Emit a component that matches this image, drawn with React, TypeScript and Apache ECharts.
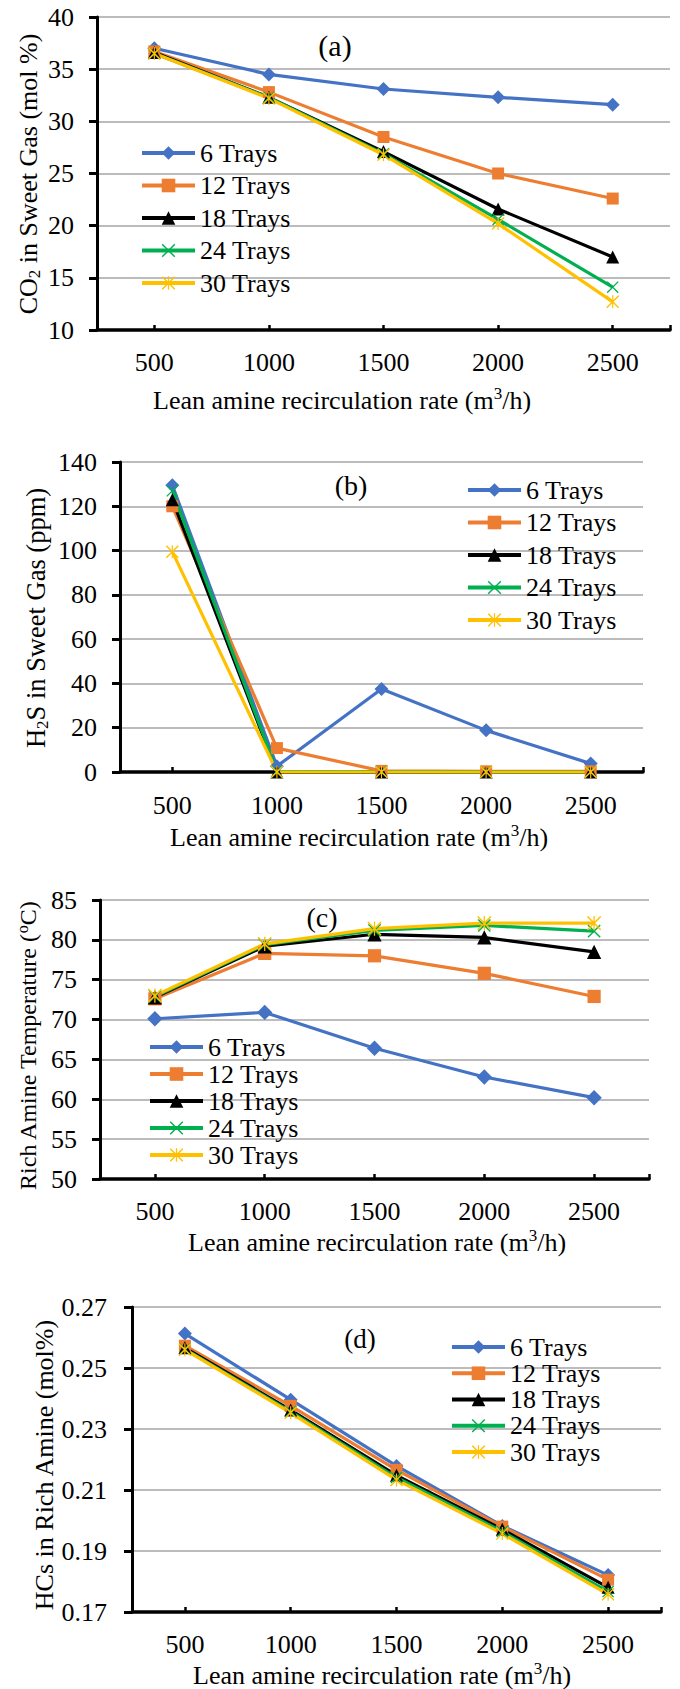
import React, { useEffect, useRef } from 'react';
import * as echarts from 'echarts';

// ---------- data ----------
const categories = ['500', '1000', '1500', '2000', '2500'];
const seriesNames = ['6 Trays', '12 Trays', '18 Trays', '24 Trays', '30 Trays'];

// (a) CO2 in sweet gas (mol %)
const co2_6 = [37.0, 34.5, 33.1, 32.3, 31.6];
const co2_12 = [36.7, 32.8, 28.5, 25.0, 22.6];
const co2_18 = [36.6, 32.3, 27.1, 21.6, 17.0];
const co2_24 = [36.5, 32.3, 26.9, 20.6, 14.1];
const co2_30 = [36.5, 32.2, 26.8, 20.2, 12.7];

// (b) H2S in sweet gas (ppm)
const h2s_6 = [129.5, 2.6, 37.5, 18.8, 3.8];
const h2s_12 = [120.0, 10.8, 0.5, 0.3, 0.3];
const h2s_18 = [123.0, 0.0, 0.0, 0.0, 0.0];
const h2s_24 = [127.0, 0.3, 0.2, 0.1, 0.1];
const h2s_30 = [99.5, 0.0, 0.0, 0.0, 0.0];

// (c) Rich amine temperature (oC)
const temp_6 = [70.1, 70.9, 66.4, 62.8, 60.2];
const temp_12 = [72.6, 78.3, 78.0, 75.8, 72.9];
const temp_18 = [72.8, 79.2, 80.7, 80.3, 78.5];
const temp_24 = [72.9, 79.4, 81.2, 81.8, 81.1];
const temp_30 = [73.0, 79.5, 81.4, 82.1, 82.1];

// (d) HCs in rich amine (mol%)
const hc_6 = [0.2613, 0.2396, 0.2179, 0.1982, 0.1821];
const hc_12 = [0.2573, 0.2376, 0.2166, 0.198, 0.1806];
const hc_18 = [0.2566, 0.2362, 0.2148, 0.1971, 0.1781];
const hc_24 = [0.2562, 0.2357, 0.2141, 0.1964, 0.1767];
const hc_30 = [0.256, 0.2353, 0.2133, 0.1957, 0.1758];

// y-axis ranges [min, max, interval]
const yRangeA = [10, 40, 5];
const yRangeB = [0, 140, 20];
const yRangeC = [50, 85, 5];
const yRangeD = [0.17, 0.27, 0.02];

// ---------- styles ----------
const FONT = 'Liberation Serif, Times New Roman, serif';
const COLORS = ['#4472C4', '#ED7D31', '#000000', '#00B050', '#FFC000'];
const X_PATH = 'path://M0,1.5 L1.5,0 L20,18.5 L18.5,20 Z M18.5,0 L20,1.5 L1.5,20 L0,18.5 Z';
const STAR_PATH =
  'path://M0,1.5 L1.5,0 L20,18.5 L18.5,20 Z M18.5,0 L20,1.5 L1.5,20 L0,18.5 Z M9.1,0 L10.9,0 L10.9,20 L9.1,20 Z';
const SYMBOLS = ['diamond', 'rect', 'triangle', X_PATH, STAR_PATH];
const SYMBOL_SIZES = [14, 12, 13, 12, 13];

const panels = [
  {
    data: [co2_6, co2_12, co2_18, co2_24, co2_30],
    range: yRangeA,
    decimals: 0,
    grid: { left: 97, top: 17, width: 573, height: 313 },
    legend: { left: 140, top: 140, itemGap: 6.5 },
    label: { text: '(a)', x: 335, y: 45, size: 30 },
    yTitle: { text: 'CO{sub|2} in Sweet Gas (mol %)', x: 28, y: 174, size: 26 },
    xTitle: { x: 153, y: 400 },
    yMargin: 23,
    xMargin: 19,
    symbolScale: 1,
  },
  {
    data: [h2s_6, h2s_12, h2s_18, h2s_24, h2s_30],
    range: yRangeB,
    decimals: 0,
    grid: { left: 120, top: 462, width: 523, height: 310 },
    legend: { left: 466, top: 477, itemGap: 6.5 },
    label: { text: '(b)', x: 351, y: 485, size: 28 },
    yTitle: { text: 'H{sub|2}S in Sweet Gas (ppm)', x: 36, y: 618, size: 26.5 },
    xTitle: { x: 170, y: 837 },
    yMargin: 23,
    xMargin: 20,
    symbolScale: 1,
  },
  {
    data: [temp_6, temp_12, temp_18, temp_24, temp_30],
    range: yRangeC,
    decimals: 0,
    grid: { left: 100, top: 900, width: 549, height: 279 },
    legend: { left: 148, top: 1034, itemGap: 1 },
    label: { text: '(c)', x: 322, y: 917, size: 28 },
    yTitle: { text: 'Rich Amine Temperature ({sup|o}C)', x: 28, y: 1046, size: 24 },
    xTitle: { x: 188, y: 1242 },
    yMargin: 23,
    xMargin: 19,
    symbolScale: 1.1,
  },
  {
    data: [hc_6, hc_12, hc_18, hc_24, hc_30],
    range: yRangeD,
    decimals: 2,
    grid: { left: 132, top: 1307, width: 529, height: 305 },
    legend: { left: 450, top: 1334, itemGap: 0.25 },
    label: { text: '(d)', x: 360, y: 1339, size: 27 },
    yTitle: { text: 'HCs in Rich Amine (mol%)', x: 44, y: 1465, size: 26 },
    xTitle: { x: 193, y: 1675 },
    yMargin: 25,
    xMargin: 19,
    symbolScale: 1,
  },
];

function richScripts(size: number) {
  const s = Math.round(size * 0.65);
  return {
    sub: { fontSize: s, fontFamily: FONT, verticalAlign: 'bottom', lineHeight: s, fill: '#000' },
    sup: { fontSize: s, fontFamily: FONT, verticalAlign: 'top', lineHeight: s, fill: '#000' },
  };
}

function buildOption() {
  const grid: any[] = [];
  const xAxis: any[] = [];
  const yAxis: any[] = [];
  const series: any[] = [];
  const legend: any[] = [];
  const graphic: any[] = [];

  panels.forEach((p, i) => {
    grid.push({ ...p.grid, containLabel: false, outerBoundsMode: 'none' });
    xAxis.push({
      type: 'category',
      gridIndex: i,
      data: categories,
      boundaryGap: true,
      position: 'bottom',
      axisLine: { show: true, onZero: false, lineStyle: { color: '#000', width: 3.5 } },
      axisTick: { show: true, alignWithLabel: true, inside: true, length: 5, lineStyle: { color: '#000', width: 2.5 } },
      axisLabel: { interval: 0, margin: p.xMargin, fontSize: 26, fontFamily: FONT, color: '#000' },
      splitLine: { show: false },
    });
    // helper axis: only draws the tick at the right end of the category axis
    xAxis.push({
      type: 'value',
      gridIndex: i,
      min: 0,
      max: 1,
      interval: 1,
      position: 'bottom',
      axisLine: { show: false, onZero: false },
      axisTick: { show: true, inside: true, length: 5, lineStyle: { color: '#000', width: 2.5 } },
      axisLabel: { show: false },
      splitLine: { show: false },
    });
    yAxis.push({
      type: 'value',
      gridIndex: i,
      min: p.range[0],
      max: p.range[1],
      interval: p.range[2],
      axisLine: { show: true, onZero: false, lineStyle: { color: '#000', width: 3 } },
      axisTick: { show: true, length: 8, lineStyle: { color: '#000', width: 3 } },
      axisLabel: {
        margin: p.yMargin,
        fontSize: 26,
        fontFamily: FONT,
        color: '#000',
        formatter: (v: number) => v.toFixed(p.decimals),
      },
      splitLine: { show: true, lineStyle: { color: '#a6a6a6', width: 1.5 } },
    });
    p.data.forEach((vals, k) => {
      series.push({
        type: 'line',
        name: seriesNames[k],
        xAxisIndex: i * 2,
        yAxisIndex: i,
        data: vals,
        symbol: SYMBOLS[k],
        symbolSize: SYMBOL_SIZES[k] * p.symbolScale,
        showSymbol: true,
        clip: false,
        lineStyle: { color: COLORS[k], width: 3.2 },
        itemStyle: { color: COLORS[k] },
        emphasis: { disabled: true },
      });
    });
    legend.push({
      orient: 'vertical',
      left: p.legend.left,
      top: p.legend.top,
      padding: 0,
      itemWidth: 53,
      itemHeight: 17,
      itemGap: p.legend.itemGap,
      selectedMode: false,
      data: seriesNames,
      lineStyle: { width: 4 },
      textStyle: { fontSize: 26, fontFamily: FONT, color: '#000', lineHeight: 26 },
    });
    graphic.push({
      type: 'text',
      x: p.label.x,
      y: p.label.y,
      style: {
        text: p.label.text,
        fontSize: p.label.size,
        fontFamily: FONT,
        fill: '#000',
        align: 'center',
        verticalAlign: 'middle',
      },
    });
    graphic.push({
      type: 'text',
      x: p.xTitle.x,
      y: p.xTitle.y,
      style: {
        text: 'Lean amine recirculation rate (m{sup|3}/h)',
        fontSize: 26,
        fontFamily: FONT,
        lineHeight: 30,
        fill: '#000',
        align: 'left',
        verticalAlign: 'middle',
        rich: richScripts(26),
      },
    });
    graphic.push({
      type: 'text',
      x: p.yTitle.x,
      y: p.yTitle.y,
      rotation: Math.PI / 2,
      style: {
        text: p.yTitle.text,
        fontSize: p.yTitle.size,
        fontFamily: FONT,
        lineHeight: Math.round(p.yTitle.size * 1.15),
        fill: '#000',
        align: 'center',
        verticalAlign: 'middle',
        rich: richScripts(p.yTitle.size),
      },
    });
  });

  return {
    animation: false,
    backgroundColor: '#ffffff',
    textStyle: { fontFamily: FONT, fontSize: 26 },
    grid,
    xAxis,
    yAxis,
    series,
    legend,
    graphic,
  };
}

export default function App() {
  const ref = useRef<HTMLDivElement>(null);
  useEffect(() => {
    if (!ref.current) return;
    const chart = echarts.init(ref.current, undefined, { renderer: 'svg' });
    chart.setOption(buildOption() as any);
    return () => chart.dispose();
  }, []);
  return (
    <div
      ref={ref}
      style={{ position: 'absolute', left: 0, top: 0, width: 680, height: 1689, background: '#fff' }}
    />
  );
}
